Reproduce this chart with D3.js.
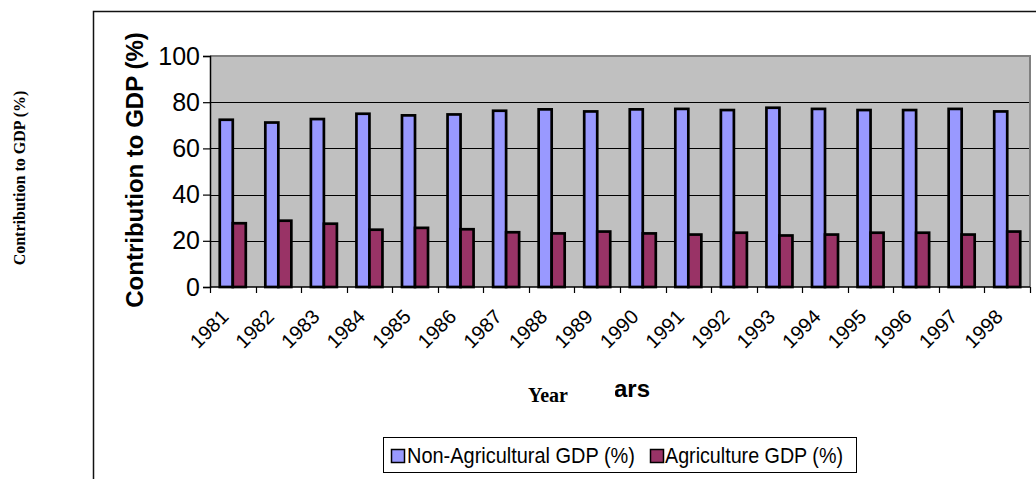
<!DOCTYPE html>
<html>
<head>
<meta charset="utf-8">
<script src="https://cdn.jsdelivr.net/npm/d3@7/dist/d3.min.js"></script>
<style>
  html, body { margin: 0; padding: 0; background: #fff; }
  svg { display: block; }
  .sans { font-family: "Liberation Sans", Arial, sans-serif; }
  .serif { font-family: "Liberation Serif", "Times New Roman", serif; }
</style>
</head>
<body>
<svg id="chart" width="1036" height="479"></svg>
<script>
// Share of GDP by sector, 1981-1998
const years = ["1981","1982","1983","1984","1985","1986","1987","1988","1989",
               "1990","1991","1992","1993","1994","1995","1996","1997","1998"];
const nonAgricultural = [72.4, 71.2, 72.7, 75.0, 74.3, 74.7, 76.3, 76.9, 76.0,
                         76.9, 77.1, 76.6, 77.6, 77.1, 76.6, 76.6, 77.1, 76.0];
const agriculture     = [27.6, 28.7, 27.4, 24.8, 25.6, 25.0, 23.7, 23.2, 24.0,
                         23.2, 22.7, 23.5, 22.3, 22.7, 23.5, 23.5, 22.7, 24.0];
const seriesNames = ["Non-Agricultural GDP (%)", "Agriculture GDP (%)"];
const seriesColors = ["#9999FF", "#993366"];
const yTicks = [0, 20, 40, 60, 80, 100];

const svg = d3.select("#chart");
const W = 1036, H = 479;

svg.append("rect").attr("width", W).attr("height", H).attr("fill", "#fff");

// outer chart frame (runs past the right and bottom edges)
svg.append("rect")
  .attr("x", 93.5).attr("y", 11.5)
  .attr("width", 1000).attr("height", 500)
  .attr("fill", "none").attr("stroke", "#111").attr("stroke-width", 1.5);

const plot = { left: 210, right: 1030, top: 56, bottom: 287 };

const x = d3.scaleBand().domain(years).range([plot.left, plot.right]).paddingInner(0).paddingOuter(0);
const y = d3.scaleLinear().domain([0, 100]).range([plot.bottom, plot.top]);

const band = x.bandwidth();
const barW = band / 3.5;
const xs = d3.scaleBand().domain(seriesNames).range([barW * 0.75, barW * 2.75]);

// plot background
svg.append("rect")
  .attr("x", plot.left).attr("y", plot.top)
  .attr("width", plot.right - plot.left).attr("height", plot.bottom - plot.top)
  .attr("fill", "#C0C0C0");

// horizontal gridlines
svg.append("g").selectAll("line")
  .data(yTicks.filter(v => v > 0 && v < 100))
  .join("line")
  .attr("x1", plot.left).attr("x2", plot.right)
  .attr("y1", d => Math.round(y(d)) + 0.5).attr("y2", d => Math.round(y(d)) + 0.5)
  .attr("stroke", "#000").attr("stroke-width", 1);

// plot border
svg.append("path")
  .attr("d", `M${plot.left},${plot.top}H${plot.right}V${plot.bottom}`)
  .attr("fill", "none").attr("stroke", "#808080").attr("stroke-width", 2);

// bars
const rows = years.map((yr, i) => ({ year: yr, values: [nonAgricultural[i], agriculture[i]] }));
const groups = svg.append("g").selectAll("g")
  .data(rows).join("g")
  .attr("transform", d => `translate(${x(d.year)},0)`);
groups.selectAll("rect")
  .data(d => d.values.map((v, k) => ({ key: seriesNames[k], value: v, k })))
  .join("rect")
  .attr("x", d => xs(d.key))
  .attr("y", d => y(d.value))
  .attr("width", xs.bandwidth())
  .attr("height", d => y(0) - y(d.value))
  .attr("fill", d => seriesColors[d.k])
  .attr("stroke", "#000").attr("stroke-width", 2.7);

// y axis
const yAxis = svg.append("g")
  .attr("transform", `translate(${plot.left},0)`)
  .call(d3.axisLeft(y).tickValues(yTicks).tickSize(7).tickPadding(3).tickFormat(d3.format("d")));
yAxis.select(".domain").attr("stroke", "#000").attr("stroke-width", 1.5);
yAxis.selectAll(".tick line").attr("stroke", "#000").attr("stroke-width", 1.2);
yAxis.selectAll(".tick text")
  .attr("class", "sans").attr("font-size", 25).attr("fill", "#000");

// x axis line and ticks at category boundaries
const xAxis = svg.append("g");
xAxis.append("line")
  .attr("x1", plot.left).attr("x2", plot.right)
  .attr("y1", plot.bottom).attr("y2", plot.bottom)
  .attr("stroke", "#000").attr("stroke-width", 1.5);
const boundaries = years.map(yr => x(yr)).concat([x(years[years.length - 1]) + band]);
xAxis.selectAll("line.tk").data(boundaries).join("line")
  .attr("class", "tk")
  .attr("x1", d => Math.round(d) + 0.5).attr("x2", d => Math.round(d) + 0.5)
  .attr("y1", plot.bottom).attr("y2", plot.bottom + 6)
  .attr("stroke", "#000").attr("stroke-width", 1.2);
xAxis.selectAll("text").data(years).join("text")
  .attr("class", "sans")
  .attr("font-size", 20)
  .attr("text-anchor", "end")
  .attr("transform", d => `translate(${x(d) + band / 2 - 3},${plot.bottom + 31}) rotate(-45)`)
  .text(d => d);

// y axis title
svg.append("text")
  .attr("class", "sans")
  .attr("font-size", 24).attr("font-weight", "bold")
  .attr("text-anchor", "middle")
  .attr("transform", "translate(143,170) rotate(-90)")
  .text("Contribution to GDP (%)");

// x axis title, partly covered by a white text box
svg.append("text")
  .attr("class", "sans")
  .attr("font-size", 24).attr("font-weight", "bold")
  .attr("text-anchor", "end")
  .attr("x", 650).attr("y", 397)
  .text("Years");
svg.append("rect")
  .attr("x", 515).attr("y", 374).attr("width", 100).attr("height", 36)
  .attr("fill", "#fff");
svg.append("text")
  .attr("class", "serif")
  .attr("font-size", 20).attr("font-weight", "bold")
  .attr("text-anchor", "middle")
  .attr("x", 548).attr("y", 402)
  .text("Year");

// outer vertical title
svg.append("text")
  .attr("class", "serif")
  .attr("font-size", 16).attr("font-weight", "bold")
  .attr("text-anchor", "middle")
  .attr("transform", "translate(25,178) rotate(-90)")
  .text("Contribution to GDP (%)");

// legend
const legend = svg.append("g");
legend.append("rect")
  .attr("x", 383.5).attr("y", 437.5).attr("width", 473).attr("height", 35)
  .attr("fill", "#fff").attr("stroke", "#000").attr("stroke-width", 1);
const legendItems = [
  { name: seriesNames[0], color: seriesColors[0], sx: 391, tx: 407, tw: 228 },
  { name: seriesNames[1], color: seriesColors[1], sx: 650, tx: 665, tw: 178 }
];
legend.selectAll("rect.sw").data(legendItems).join("rect")
  .attr("class", "sw")
  .attr("x", d => d.sx + 0.5).attr("y", 449.5).attr("width", 13).attr("height", 13)
  .attr("fill", d => d.color).attr("stroke", "#000").attr("stroke-width", 1.5);
legend.selectAll("text").data(legendItems).join("text")
  .attr("class", "sans")
  .attr("font-size", 22)
  .attr("x", d => d.tx).attr("y", 463)
  .attr("textLength", d => d.tw).attr("lengthAdjust", "spacingAndGlyphs")
  .text(d => d.name);
</script>
</body>
</html>
